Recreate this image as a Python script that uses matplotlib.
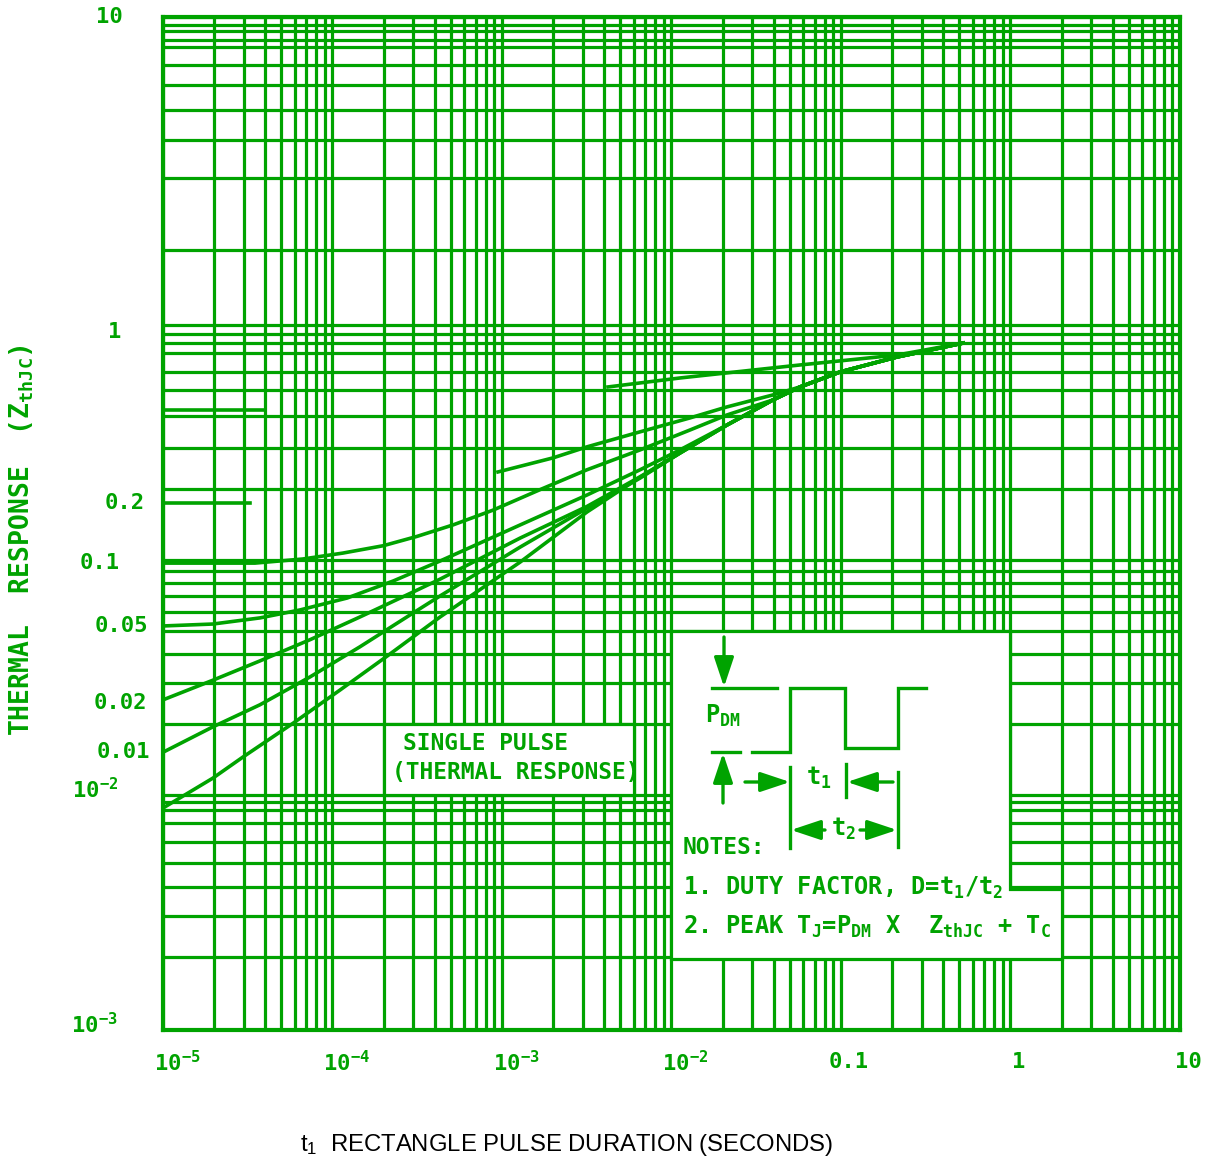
import numpy as np
import matplotlib
matplotlib.use('Agg')
import matplotlib.pyplot as plt
from matplotlib.patches import Polygon
from matplotlib.transforms import offset_copy

GREEN = '#00a300'
MONO = 'DejaVu Sans Mono'
plt.rcParams['mathtext.default'] = 'regular'

# --- Curves (t1 in seconds, Zth normalised) ---
sp_t = [1e-5, 1.97e-5, 2.96e-5, 5.85e-5, 1.11e-4, 2.1e-4, 4.31e-4, 1.28e-3, 3.17e-3,
        6.52e-3, 1.12e-2, 2.12e-2, 3.97e-2, 5.73e-2, 9.86e-2, 0.214, 0.525]
sp_z = [0.0088, 0.0118, 0.0145, 0.0202, 0.0280, 0.0390, 0.0572, 0.098, 0.160,
        0.225, 0.285, 0.375, 0.480, 0.545, 0.631, 0.731, 0.838]

d01_t = [1e-5, 1.97e-5, 3.73e-5, 7.37e-5, 1.45e-4, 2.99e-4, 4.31e-4, 1.28e-3, 3.17e-3,
         6.52e-3, 1.12e-2, 2.12e-2, 3.97e-2, 5.73e-2, 9.86e-2, 0.214, 0.525]
d01_z = [0.0152, 0.0195, 0.0242, 0.0318, 0.0427, 0.0595, 0.0703, 0.1135, 0.166,
         0.223, 0.285, 0.375, 0.480, 0.545, 0.631, 0.731, 0.838]

d02_t = d01_t
d02_z = [0.0254, 0.0308, 0.0372, 0.0458, 0.0572, 0.0731, 0.0829, 0.124, 0.169,
         0.226, 0.285, 0.375, 0.480, 0.545, 0.631, 0.731, 0.838]

d05_t = [1e-5, 1.97e-5, 3.73e-5, 6.43e-5, 1.22e-4, 2.28e-4, 4.31e-4, 1.28e-3, 3.17e-3,
         6.52e-3, 1.12e-2, 2.12e-2, 3.97e-2, 5.73e-2, 9.86e-2, 0.214, 0.525]
d05_z = [0.0524, 0.0534, 0.0567, 0.0613, 0.0689, 0.0814, 0.099, 0.141, 0.189,
         0.242, 0.294, 0.375, 0.480, 0.545, 0.631, 0.731, 0.838]

d1_t = [1e-5, 3.49e-5, 6.69e-5, 1.15e-4, 1.99e-4, 3.15e-4, 5.14e-4, 8.85e-4, 1.67e-3,
        3.17e-3, 6.52e-3, 1.28e-2, 2.12e-2, 3.97e-2, 5.73e-2, 9.86e-2, 0.214, 0.525]
d1_z = [0.097, 0.097, 0.101, 0.107, 0.115, 0.126, 0.141, 0.163, 0.199,
        0.242, 0.294, 0.357, 0.414, 0.480, 0.545, 0.631, 0.731, 0.838]

# D=0.2 and D=0.5 are drawn broken in the original (left stub + right part)
d2_left_t = [1e-5, 3.26e-5]
d2_left_z = [0.175, 0.175]
d2_t = [9.47e-4, 2.0e-3, 3.17e-3, 6.52e-3, 1.28e-2, 2.12e-2, 3.97e-2, 5.73e-2, 9.86e-2, 0.214, 0.525]
d2_z = [0.237, 0.272, 0.303, 0.351, 0.402, 0.448, 0.504, 0.545, 0.631, 0.731, 0.838]

d5_left_t = [1e-5, 4.0e-5]
d5_left_z = [0.435, 0.435]
d5_t = [4.22e-3, 1.12e-2, 5.73e-2, 0.214, 0.525]
d5_z = [0.545, 0.595, 0.676, 0.745, 0.838]

# axis ticks / labels
x_ticks = [1e-5, 1e-4, 1e-3, 1e-2, 0.1, 1, 10]
x_tick_txt = ['$10^{-5}$', '$10^{-4}$', '$10^{-3}$', '$10^{-2}$', '0.1', '1', '10']
y_major = [1e-3, 1e-2, 0.1, 1, 10]
# horizontal rulings as drawn on the original sheet
y_rule = [0.00205, 0.00305, 0.00406, 0.00514, 0.0063, 0.0076, 0.0086, 0.0093,
          0.02, 0.03, 0.04, 0.05, 0.06, 0.07, 0.08, 0.09,
          0.2, 0.3, 0.41, 0.53, 0.63, 0.76, 0.84, 0.92,
          1.75, 3, 4, 5, 6, 7, 8, 8.4, 9, 9.4]
x_rule = [m * 10.0 ** e for e in range(-5, 1) for m in range(2, 10)]

y_lab_txt = ['10', '1', '0.2', '0.1', '0.05', '0.02', '0.01', '$10^{-2}$', '$10^{-3}$']
y_lab_val = [10, 0.93, 0.175, 0.097, 0.0524, 0.0246, 0.0152, 0.0105, 0.00105]
y_lab_right = [123, 121, 145, 120, 148, 147, 150, 118, 118]


# the sheet's top decade is drawn taller than the others
def fwd(y):
    L = np.log10(np.clip(y, 1e-12, None))
    return np.where(L <= 0, L * 235.0, L * 308.0)


def inv(t):
    t = np.asarray(t, dtype=float)
    return np.where(t <= 0, 10.0 ** (t / 235.0), 10.0 ** (t / 308.0))


W, H = 1214, 1164
fig = plt.figure(figsize=(W / 100, H / 100), dpi=100)
ax = fig.add_axes([163 / W, (H - 1030) / H, (1180 - 163) / W, (1030 - 17) / H])
ax.set_xscale('log')
ax.set_yscale('function', functions=(fwd, inv))
ax.set_xlim(1e-5, 10)
ax.set_ylim(1e-3, 10)

ax.set_xticks(x_ticks)
ax.set_xticks(x_rule, minor=True)
ax.set_yticks(y_major)
ax.set_yticks(y_rule, minor=True)
ax.tick_params(which='both', length=0, labelbottom=False, labelleft=False)
ax.grid(True, which='both', color=GREEN, lw=2.3)
ax.set_axisbelow(True)
for s in ax.spines.values():
    s.set_color(GREEN)
    s.set_linewidth(3)

# white panels cut out of the grid
notes_box = Polygon([(1e-2, 0.002), (1e-2, 0.05), (1, 0.05), (1, 0.004), (2, 0.004), (2, 0.002)],
                    closed=True, facecolor='white', edgecolor=GREEN, lw=2.3, zorder=1)
sp_box = Polygon([(2e-4, 0.01), (2e-4, 0.02), (6e-3, 0.02), (6e-3, 0.01)],
                 closed=True, facecolor='white', edgecolor=GREEN, lw=2.3, zorder=1)
ax.add_patch(notes_box)
ax.add_patch(sp_box)

lw = 2.6
for t, z in [(sp_t, sp_z), (d01_t, d01_z), (d02_t, d02_z), (d05_t, d05_z), (d1_t, d1_z),
             (d2_left_t, d2_left_z), (d2_t, d2_z), (d5_left_t, d5_left_z), (d5_t, d5_z)]:
    ax.plot(t, z, color=GREEN, lw=lw, zorder=3, solid_joinstyle='round')

txt = dict(color=GREEN, family=MONO, weight='bold')

# x tick labels
xt = ax.get_xaxis_transform()
for v, s in zip(x_ticks, x_tick_txt):
    if s.startswith('$'):
        tr = offset_copy(xt, fig=fig, x=-9, y=0, units='dots')
        ax.text(v, -0.032, s, transform=tr, ha='left', va='center', fontsize=16, **txt)
    else:
        tr = offset_copy(xt, fig=fig, x=8, y=0, units='dots')
        ax.text(v, -0.032, s, transform=tr, ha='center', va='center', fontsize=16, **txt)

# y labels (axis values and duty-factor labels)
yt = ax.get_yaxis_transform()
for s, v, r in zip(y_lab_txt, y_lab_val, y_lab_right):
    tr = offset_copy(yt, fig=fig, x=r - 163, y=0, units='dots')
    ax.text(0, v, s, transform=tr, ha='right', va='center', fontsize=16, clip_on=False, **txt)

# overlay in pixel coordinates for the drawing and free text
ov = fig.add_axes([0, 0, 1, 1], zorder=5)
ov.set_xlim(0, W)
ov.set_ylim(H, 0)
ov.axis('off')
ov.patch.set_visible(False)

ov.text(403, 744, 'SINGLE PULSE', ha='left', va='center', fontsize=16.5, **txt)
ov.text(392, 772, '(THERMAL RESPONSE)', ha='left', va='center', fontsize=16.5, **txt)

ov.text(22, 540, 'THERMAL  RESPONSE  (Z$_{thJC}$)', rotation=90, ha='center', va='center',
        fontsize=19, **txt)
ov.text(300, 1145, 't$_1$  RECTANGLE PULSE DURATION (SECONDS)', ha='left', va='center',
        fontsize=17.2, color='black', family='Liberation Sans')

# pulse sketch
wl = 2.4
ov.plot([752, 790, 790, 845, 845, 898, 898, 926], [752, 752, 688, 688, 748, 748, 688, 688],
        color=GREEN, lw=wl, solid_joinstyle='miter')
ov.plot([712, 777], [688, 688], color=GREEN, lw=wl)
ov.plot([712, 740], [752, 752], color=GREEN, lw=wl)
ov.plot([790, 790], [767, 848], color=GREEN, lw=wl)
ov.plot([846, 846], [764, 797], color=GREEN, lw=wl)
ov.plot([898, 898], [772, 847], color=GREEN, lw=wl)


def arrow(x0, y0, x1, y1):
    ov.annotate('', xy=(x1, y1), xytext=(x0, y0),
                arrowprops=dict(arrowstyle='-|>,head_length=0.9,head_width=0.3', color=GREEN,
                                lw=wl, shrinkA=0, shrinkB=0, mutation_scale=20))


arrow(724, 637, 724, 687)
arrow(723, 803, 723, 753)
arrow(745, 782, 790, 782)
arrow(893, 782, 847, 782)
arrow(825, 830, 791, 830)
arrow(860, 830, 897, 830)

ov.text(705, 716, 'P$_{DM}$', ha='left', va='center', fontsize=17, **txt)
ov.text(806, 778, 't$_1$', ha='left', va='center', fontsize=17, **txt)
ov.text(831, 829, 't$_2$', ha='left', va='center', fontsize=17, **txt)
ov.text(683, 847, 'NOTES:', ha='left', va='center', fontsize=16.5, **txt)
ov.text(683, 888, '1. DUTY FACTOR, D=t$_1$/t$_2$', ha='left', va='center', fontsize=17, **txt)
ov.text(683, 927, '2. PEAK T$_J$=P$_{DM}$ X  Z$_{thJC}$ + T$_C$', ha='left', va='center',
        fontsize=17, **txt)

fig.savefig('out.png', dpi=100)
